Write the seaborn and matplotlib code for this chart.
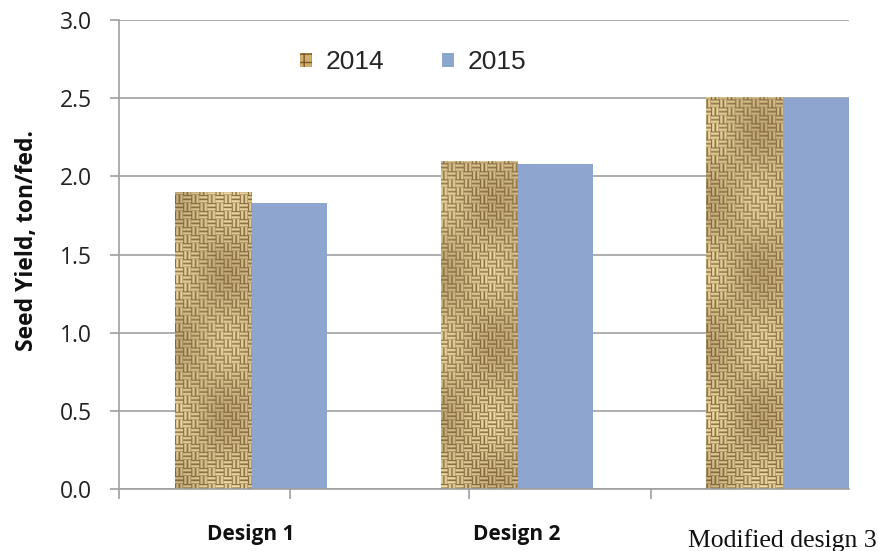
#!/usr/bin/env python3
"""
Seed yield of the three planter designs, seasons 2014 and 2015.
"""

import matplotlib

matplotlib.use("Agg")
import matplotlib.pyplot as plt
import numpy as np
import pandas as pd
import seaborn as sns
from matplotlib.patches import Patch
from matplotlib.transforms import ScaledTranslation

designs = ["Design 1", "Design 2", "Modified design 3"]
years = ["2014", "2015"]
yield_2014 = [1.90, 2.10, 2.51]
yield_2015 = [1.83, 2.08, 2.50]
y_ticks = [0.0, 0.5, 1.0, 1.5, 2.0, 2.5, 3.0]

BLUE = "#8EA6CF"
TAN = "#CDAE70"
GRID = "#A0A0A0"


def weave_texture(h: int, w: int, cell: int = 4) -> np.ndarray:
    # basket-weave look for the 2014 bars (burlap fill in the original)
    i, j = np.indices((h, w))
    block = ((i // (2 * cell)) + (j // (2 * cell))) % 2
    profile = np.array([0.25, 0.85, 1.0, 0.6])
    t = np.where(block == 0, profile[i % cell], profile[j % cell])
    t = t * (0.85 + 0.15 * np.sin(i / 23.0) * np.cos(j / 17.0))
    dark = np.array([0x68, 0x4C, 0x22]) / 255
    light = np.array([0xF4, 0xDF, 0xA8]) / 255
    return dark + (light - dark) * t[..., None]


def main() -> None:
    df = pd.DataFrame(
        {
            "design": designs * 2,
            "year": [years[0]] * len(designs) + [years[1]] * len(designs),
            "value": yield_2014 + yield_2015,
        }
    )

    sns.set_theme(style="ticks")
    plt.rcParams["font.family"] = ["Open Sans", "DejaVu Sans"]

    fig = plt.figure(figsize=(8.79, 5.51), dpi=100)
    ax = fig.add_axes([119 / 879, 1 - 489 / 551, 730 / 879, 469 / 551])

    sns.barplot(
        data=df,
        x="design",
        y="value",
        hue="year",
        palette=[TAN, BLUE],
        width=0.5725,
        saturation=1,
        linewidth=0,
        errorbar=None,
        legend=False,
        ax=ax,
    )

    xlim = (-0.497, 2.252)
    ax.set_xlim(*xlim)
    ax.set_ylim(0, 3)

    tex = weave_texture(469, 730)
    for bar in ax.containers[0]:
        im = ax.imshow(
            tex,
            extent=(*xlim, 0, 3),
            aspect="auto",
            interpolation="bilinear",
            zorder=bar.get_zorder() + 0.1,
        )
        im.set_clip_path(bar)
    ax.set_xlim(*xlim)
    ax.set_ylim(0, 3)

    ax.set_axisbelow(True)
    ax.yaxis.grid(True, color=GRID, linewidth=1.2)
    ax.xaxis.grid(False)
    sns.despine(ax=ax)
    for side in ("left", "bottom"):
        ax.spines[side].set_color(GRID)
        ax.spines[side].set_linewidth(1.2)

    ax.set_yticks(y_ticks, labels=[f"{v:.1f}" for v in y_ticks])
    ax.tick_params(
        axis="y", left=True, length=6.5, width=1.2, color=GRID, pad=13,
        labelsize=16.5, labelcolor="#222222",
    )
    ax.set_xticks(range(len(designs)), labels=designs)
    ax.set_xticks([xlim[0], 0.147, 0.821, 1.507], minor=True)
    ax.tick_params(axis="x", which="major", length=0, pad=25)
    ax.tick_params(axis="x", which="minor", bottom=True, length=7, width=1.2, color=GRID)
    ticklabels = ax.get_xticklabels()
    for lab in ticklabels[:2]:
        lab.set_fontfamily(["Open Sans", "DejaVu Sans"])
        lab.set_fontweight("bold")
        lab.set_fontsize(15)
        lab.set_color("#111111")
    ticklabels[2].set_fontfamily(["Liberation Serif", "DejaVu Serif"])
    ticklabels[2].set_fontsize(18.5)
    ticklabels[2].set_color("#111111")
    ticklabels[2].set_transform(
        ticklabels[2].get_transform() + ScaledTranslation(0, -4 / 72, fig.dpi_scale_trans)
    )

    ax.set_xlabel("")
    ax.set_ylabel("Seed Yield, ton/fed.", fontsize=16.5, fontweight="bold", color="#111111")
    ax.yaxis.set_label_coords(-0.11, 0.53)

    handles = [
        Patch(facecolor="#CFAF6E", edgecolor="#7D5A2A", hatch="++", linewidth=0),
        Patch(facecolor=BLUE, linewidth=0),
    ]
    ax.legend(
        handles,
        years,
        loc="center",
        bbox_to_anchor=(0.403, 0.910),
        ncol=2,
        frameon=False,
        prop={"family": ["Liberation Sans", "DejaVu Sans"], "size": 19},
        handlelength=0.45,
        handleheight=0.45,
        handletextpad=0.5,
        columnspacing=2.2,
    )

    fig.savefig("out.png", dpi=100)


if __name__ == "__main__":
    main()
